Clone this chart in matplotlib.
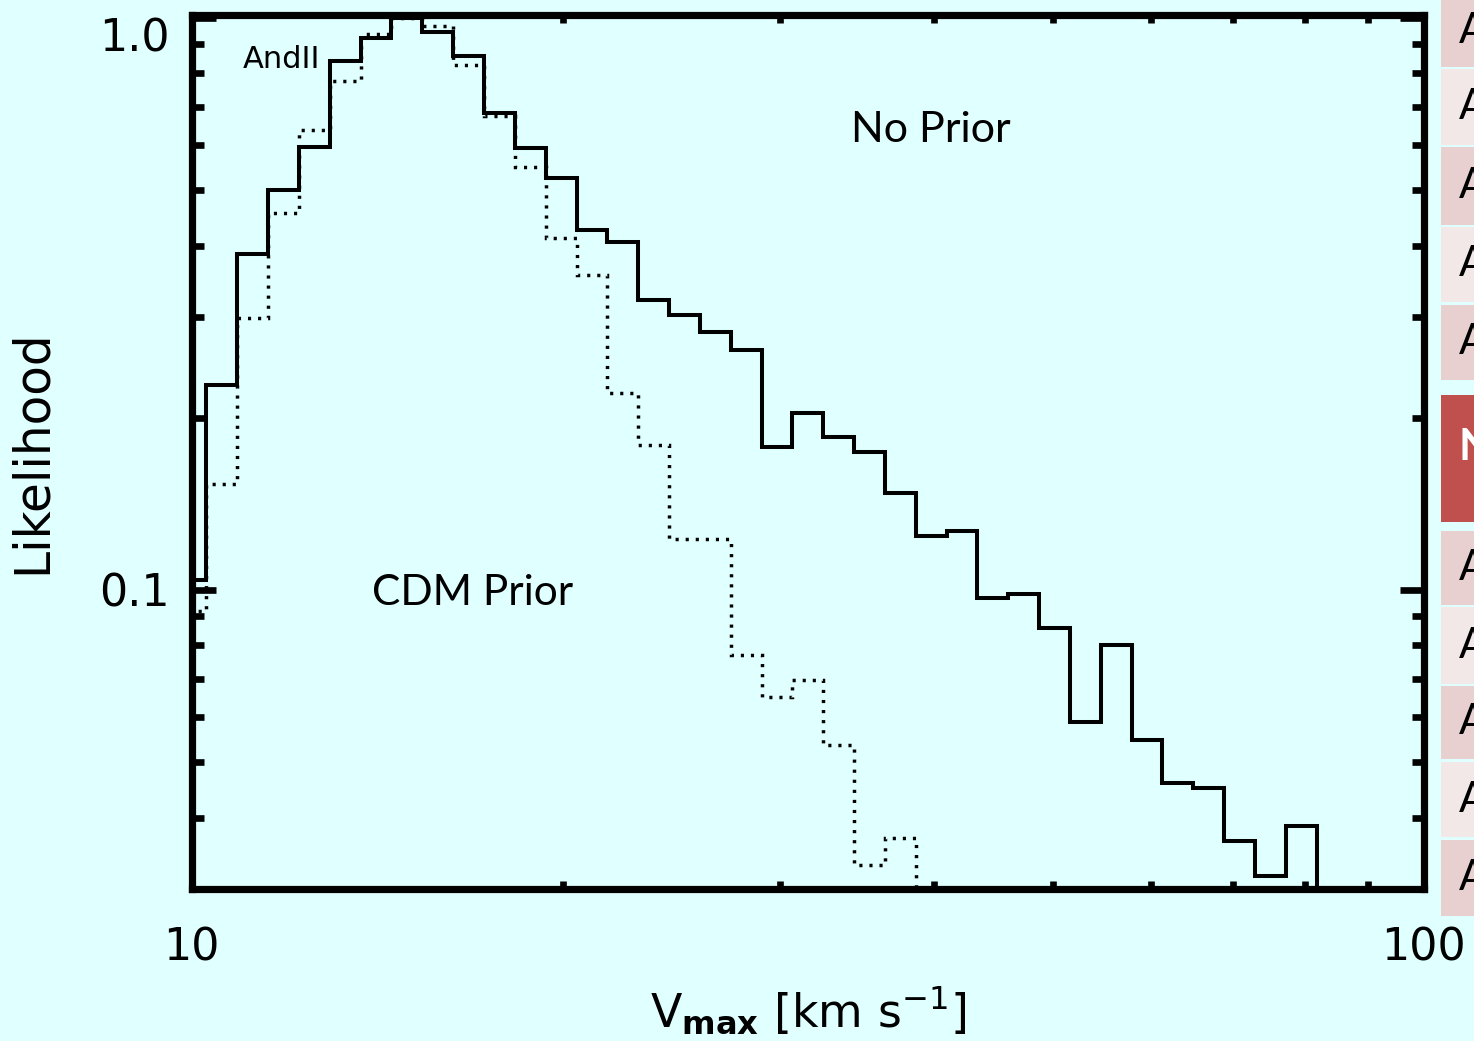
import matplotlib
matplotlib.use("Agg")
import matplotlib.pyplot as plt
from matplotlib.ticker import FixedLocator, NullFormatter

# ---------------- data ----------------
vmax_edges = [9.71, 10.28, 10.89, 11.54, 12.23, 12.95, 13.72, 14.53, 15.39, 16.31,
              17.27, 18.30, 19.38, 20.53, 21.75, 23.04, 24.41, 25.85, 27.39, 29.01,
              30.73, 32.55, 34.48, 36.53, 38.70, 40.99, 43.42, 46.00, 48.72, 51.61,
              54.67, 57.92, 61.35, 64.99, 68.84, 72.93, 77.25, 81.83]

no_prior = [0.104, 0.228, 0.387, 0.500, 0.595, 0.841, 0.923, 1.0, 0.945, 0.858,
            0.682, 0.592, 0.525, 0.426, 0.406, 0.321, 0.303, 0.283, 0.263, 0.178,
            0.204, 0.185, 0.174, 0.148, 0.124, 0.127, 0.0969, 0.0984, 0.0858, 0.0588,
            0.0801, 0.0547, 0.046, 0.0451, 0.0364, 0.0316, 0.0387]

cdm_prior = [0.092, 0.153, 0.299, 0.456, 0.637, 0.776, 0.937, 1.0, 0.968, 0.828,
             0.675, 0.549, 0.412, 0.355, 0.221, 0.179, 0.123, 0.123, 0.0769, 0.065,
             0.0696, 0.0536, 0.0331, 0.0368]

x_major = [10, 100]
x_major_labels = ["10", "100"]
y_major = [0.1, 1.0]
y_major_labels = ["0.1", "1.0"]

# side table (cut-off slide table)
row_labels = ["A", "A", "A", "A", "A", "N", "A", "A", "A", "A", "A"]
row_top = [-5, 69, 147, 227, 305, 395, 531, 607, 686, 762, 840]
row_bottom = [67, 145, 225, 302, 380, 522, 605, 684, 759, 837, 916]
row_colors = ["#e8d0d0", "#f3e8e8", "#e8d0d0", "#f3e8e8", "#e8d0d0", "#c0504d",
              "#e8d0d0", "#f3e8e8", "#e8d0d0", "#f3e8e8", "#e8d0d0"]

BG = "#e0ffff"
W, H = 1474, 1041

fig = plt.figure(figsize=(W / 100, H / 100), dpi=100, facecolor=BG)

ax = fig.add_axes([191.5 / W, 1 - 889 / H, (1424 - 191.5) / W, (889 - 15) / H])
ax.set_facecolor(BG)
ax.set_xscale("log")
ax.set_yscale("log")
ax.set_xlim(10, 100)
ax.set_ylim(0.030, 1.012)

solid = ax.stairs(no_prior, vmax_edges[:len(no_prior) + 1], baseline=1e-3,
                  color="black", linewidth=2.9)
solid.set_joinstyle("miter")
dotted = ax.stairs(cdm_prior, vmax_edges[:len(cdm_prior) + 1], baseline=1e-3,
                   color="black", linewidth=2.5, linestyle=(0, (0.9, 2.0)))

for s in ax.spines.values():
    s.set_linewidth(5.2)
    s.set_color("black")

ax.xaxis.set_major_locator(FixedLocator(x_major))
ax.set_xticklabels(x_major_labels)
ax.xaxis.set_minor_locator(FixedLocator([20, 30, 40, 50, 60, 70, 80, 90]))
ax.xaxis.set_minor_formatter(NullFormatter())
ax.yaxis.set_major_locator(FixedLocator(y_major))
ax.set_yticklabels(y_major_labels)
ax.yaxis.set_minor_locator(FixedLocator([0.04, 0.05, 0.06, 0.07, 0.08, 0.09,
                                         0.2, 0.3, 0.4, 0.5, 0.6, 0.7, 0.8, 0.9]))
ax.yaxis.set_minor_formatter(NullFormatter())

ax.tick_params(axis="both", which="both", direction="in", top=True, right=True,
               colors="black", width=4.8)
ax.tick_params(axis="x", which="minor", length=6)
ax.tick_params(axis="x", which="major", length=14, labelsize=32, pad=27)
ax.tick_params(axis="y", which="minor", length=8.5)
ax.tick_params(axis="y", which="major", length=17, labelsize=32, pad=16)
for lab in ax.get_yticklabels():
    if lab.get_text() == "1.0":
        lab.set_verticalalignment("top")

ax.set_ylabel("Likelihood", fontsize=35)
ax.yaxis.set_label_coords(-0.110, 0.5)
ax.set_xlabel(r"V$_{\mathbf{max}}$ [km s$^{-1}$]", fontsize=33)
ax.xaxis.set_label_coords(0.5, -0.110)

ax.text(11.0, 0.845, "AndII", fontsize=22, ha="left", va="center")
ax.text(34.3, 0.637, "No Prior", fontsize=31, family="Lato", ha="left", va="center")
ax.text(14.0, 0.0988, "CDM Prior", fontsize=30.5, family="Lato", ha="left", va="center")

# side table
axt = fig.add_axes([1441 / W, 0, 100 / W, 1])
axt.set_xlim(0, 100)
axt.set_ylim(H, 0)
axt.axis("off")
centers = [(t + b) / 2 for t, b in zip(row_top, row_bottom)]
heights = [b - t for t, b in zip(row_top, row_bottom)]
axt.barh(centers, [100] * len(centers), height=heights, left=0, color=row_colors)
for c, lab, col in zip(centers, row_labels, row_colors):
    if lab == "N":
        axt.text(18, c - 12, lab, fontsize=31, family="Lato", fontweight="bold",
                 color="white", ha="left", va="center")
    else:
        axt.text(18, c, lab, fontsize=30, family="Lato", color="black",
                 ha="left", va="center")

fig.savefig("out.png", dpi=100, facecolor=BG)
